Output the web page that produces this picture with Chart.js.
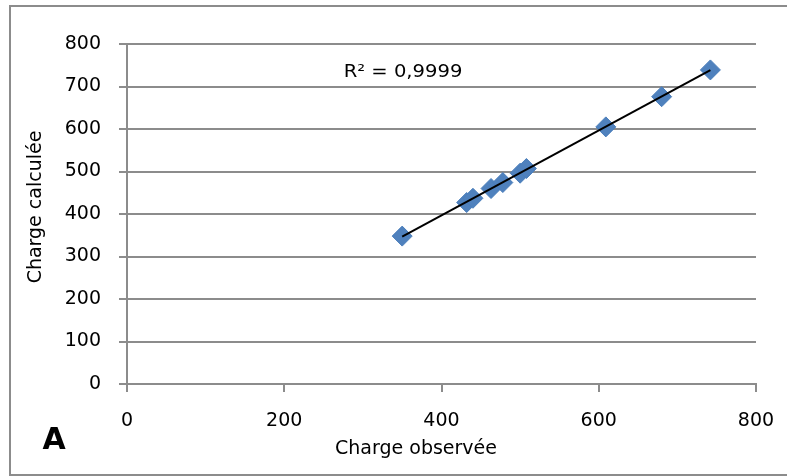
<!DOCTYPE html>
<html>
<head>
<meta charset="utf-8">
<script src="https://cdn.jsdelivr.net/npm/chart.js@4/dist/chart.umd.min.js"></script>
<style>
  body { margin: 0; background: #fff; }
  canvas { display: block; }
</style>
</head>
<body>
<canvas id="myChart" width="787" height="476"></canvas>
<script>
// charge observée vs charge calculée
const chargeObservee = [350, 432, 440, 463, 478, 500, 508, 609, 680, 742];
const chargeCalculee = [348, 427, 437, 460, 474, 496, 507, 605, 676, 739];
const r2Label = "R² = 0,9999";
const panelLabel = "A";
const xTitle = "Charge observée";
const yTitle = "Charge calculée";

// least squares line, drawn from min x to max x like the Excel trendline
function linearFit(xs, ys) {
    const n = xs.length;
    let sx = 0, sy = 0, sxx = 0, sxy = 0;
    for (let i = 0; i < n; i++) {
        sx += xs[i];
        sy += ys[i];
        sxx += xs[i] * xs[i];
        sxy += xs[i] * ys[i];
    }
    const slope = (n * sxy - sx * sy) / (n * sxx - sx * sx);
    const intercept = (sy - slope * sx) / n;
    return { slope, intercept };
}

const fit = linearFit(chargeObservee, chargeCalculee);
const xMin = Math.min(...chargeObservee);
const xMax = Math.max(...chargeObservee);
const trend = [
    { x: xMin, y: fit.slope * xMin + fit.intercept },
    { x: xMax, y: fit.slope * xMax + fit.intercept }
];

const points = chargeObservee.map((x, i) => ({ x: x, y: chargeCalculee[i] }));

const FONT = "'DejaVu Sans', sans-serif";
const GRID = "#8c8c8c";

// frame, axis titles (Excel puts them off-centre), R² text and panel letter
const extras = {
    id: "extras",
    beforeDraw(chart) {
        const ctx = chart.ctx;
        ctx.save();
        ctx.fillStyle = "#fff";
        ctx.fillRect(0, 0, chart.width, chart.height);
        ctx.strokeStyle = GRID;
        ctx.lineWidth = 2;
        ctx.strokeRect(10, 6, 800, 469);
        ctx.restore();
    },
    afterDraw(chart) {
        const ctx = chart.ctx;
        ctx.save();
        ctx.fillStyle = "#000";
        ctx.textAlign = "center";
        ctx.textBaseline = "middle";

        ctx.font = "19px " + FONT;
        ctx.fillText(xTitle, 416, 449);

        ctx.save();
        ctx.translate(36, 207);
        ctx.rotate(-Math.PI / 2);
        ctx.fillText(yTitle, 0, 0);
        ctx.restore();

        ctx.save();
        ctx.translate(403, 73);
        ctx.scale(1.15, 1);
        ctx.font = "17px " + FONT;
        ctx.fillText(r2Label, 0, 0);
        ctx.restore();

        ctx.font = "bold 30px " + FONT;
        ctx.fillText(panelLabel, 54, 441);
        ctx.restore();
    }
};

var ctx = document.getElementById("myChart").getContext("2d");

var myChart = new Chart(ctx, {
    type: "scatter",
    data: {
        datasets: [
            {
                label: "Charge",
                data: points,
                pointStyle: "rectRot",
                pointRadius: 10,
                pointHoverRadius: 10,
                backgroundColor: "#4f81bd",
                borderColor: "#4a7ebb",
                borderWidth: 1,
                order: 2
            },
            {
                label: "Tendance",
                type: "line",
                data: trend,
                borderColor: "#000",
                borderWidth: 2,
                pointRadius: 0,
                fill: false,
                order: 1
            }
        ]
    },
    options: {
        responsive: false,
        animation: false,
        layout: {
            padding: { top: 44, right: 31, left: 0, bottom: 0 }
        },
        plugins: {
            legend: { display: false },
            tooltip: { enabled: false }
        },
        scales: {
            x: {
                type: "linear",
                min: 0,
                max: 800,
                afterFit(scale) {
                    scale.height = 92;
                    // edge labels fit inside the layout padding already
                    scale.paddingLeft = 0;
                    scale.paddingRight = 0;
                },
                ticks: {
                    stepSize: 200,
                    color: "#000",
                    padding: 18,
                    maxRotation: 0,
                    font: { family: FONT, size: 19 }
                },
                grid: {
                    drawOnChartArea: false,
                    drawTicks: true,
                    tickLength: 8,
                    color: GRID,
                    lineWidth: 2
                },
                border: { color: GRID, width: 2 }
            },
            y: {
                type: "linear",
                min: 0,
                max: 800,
                afterFit(scale) {
                    scale.width = 127;
                    scale.paddingTop = 0;
                    scale.paddingBottom = 0;
                },
                ticks: {
                    stepSize: 100,
                    color: "#000",
                    padding: 18,
                    font: { family: FONT, size: 19 }
                },
                grid: {
                    drawTicks: true,
                    tickLength: 8,
                    color: GRID,
                    lineWidth: 2
                },
                border: { color: GRID, width: 2 }
            }
        }
    },
    plugins: [extras]
});
</script>
</body>
</html>
